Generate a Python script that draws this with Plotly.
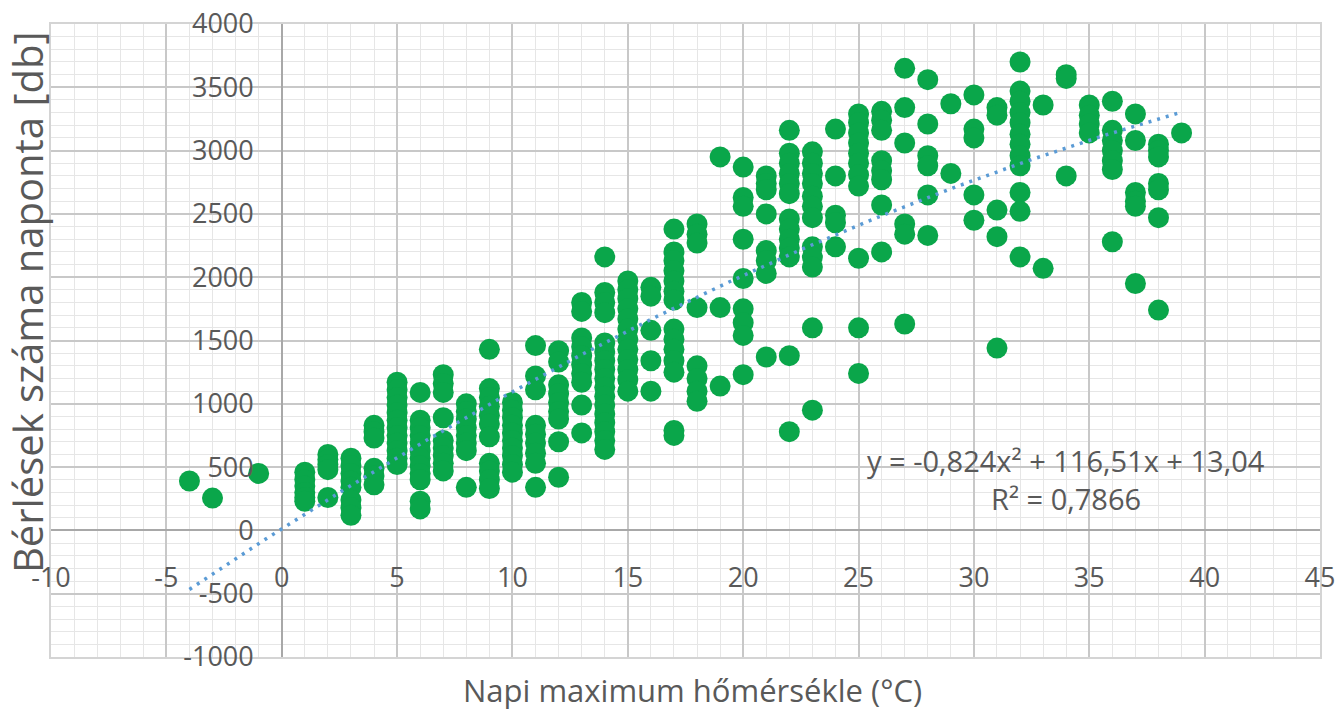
import numpy as np
import plotly.graph_objects as go

# ---- data ----
temps = [-4, -3, -1, 1, 2, 3, 4, 5, 6, 7, 8, 9, 10, 11, 12, 13, 14, 15, 16, 17, 18, 19,
         20, 21, 22, 23, 24, 25, 26, 27, 28, 29, 30, 31, 32, 33, 34, 35, 36, 37, 38, 39]
rentals_per_temp = [
    [390],
    [255],
    [450],
    [460, 400, 350, 300, 260, 230],
    [600, 560, 520, 480, 260],
    [570, 510, 450, 390, 340, 240, 180, 120],
    [830, 780, 730, 490, 430, 360],
    [1170, 1110, 1050, 990, 930, 870, 810, 750, 690, 630, 570, 520],
    [1090, 870, 810, 750, 690, 630, 570, 510, 450, 400, 230, 170],
    [1230, 1160, 1090, 890, 710, 650, 590, 530, 470],
    [1000, 940, 880, 810, 750, 690, 630, 340],
    [1430, 1120, 1050, 980, 910, 840, 740, 530, 470, 400, 330],
    [1010, 950, 890, 830, 770, 710, 650, 590, 520, 460],
    [1460, 1220, 1110, 830, 760, 690, 610, 530, 340],
    [1420, 1330, 1150, 1080, 1010, 940, 880, 700, 420],
    [1800, 1730, 1520, 1450, 1380, 1310, 1240, 1170, 990, 770],
    [2160, 1880, 1800, 1720, 1480, 1410, 1340, 1270, 1200, 1130, 1060, 990, 920, 850, 780, 710, 640],
    [1970, 1900, 1830, 1750, 1670, 1590, 1510, 1430, 1350, 1270, 1190, 1100],
    [1920, 1850, 1580, 1340, 1100],
    [2380, 2200, 2130, 2050, 1970, 1890, 1820, 1590, 1510, 1430, 1340, 1250, 790, 750],
    [2420, 2340, 2270, 1760, 1300, 1200, 1100, 1020],
    [2950, 1760, 1140],
    [2870, 2630, 2560, 2300, 1990, 1750, 1640, 1540, 1230],
    [2800, 2740, 2690, 2500, 2210, 2130, 2030, 1370],
    [3160, 2980, 2900, 2820, 2740, 2660, 2460, 2380, 2300, 2230, 2160, 1380, 780],
    [2990, 2900, 2820, 2740, 2640, 2560, 2470, 2240, 2160, 2080, 1600, 950],
    [3170, 2800, 2490, 2430, 2240],
    [3290, 3220, 3140, 3060, 2980, 2900, 2810, 2720, 2150, 1600, 1240],
    [3310, 3240, 3160, 2920, 2840, 2770, 2570, 2200],
    [3650, 3340, 3060, 2420, 2340, 1630],
    [3560, 3210, 2960, 2880, 2650, 2330],
    [3370, 2820],
    [3440, 3170, 3100, 2650, 2450],
    [3340, 3280, 2530, 2320, 1440],
    [3700, 3470, 3390, 3300, 3220, 3130, 3050, 2960, 2880, 2670, 2520, 2160],
    [3360, 2070],
    [3600, 3570, 2800],
    [3360, 3280, 3210, 3140],
    [3390, 3160, 3080, 3000, 2920, 2850, 2280],
    [3290, 3080, 2670, 2600, 2560, 1950],
    [3050, 3000, 2950, 2740, 2690, 2470, 1740],
    [3140],
]

# trendline coefficients shown on the chart
trend_a, trend_b, trend_c = -0.824, 116.51, 13.04
equation_text = "y = -0,824x² + 116,51x + 13,04"
r2_text = "R² = 0,7866"

x_tick_vals = [-10, -5, 0, 5, 10, 15, 20, 25, 30, 35, 40, 45]
x_tick_text = ["-10", "-5", "0", "5", "10", "15", "20", "25", "30", "35", "40", "45"]
y_tick_vals = [-1000, -500, 0, 500, 1000, 1500, 2000, 2500, 3000, 3500, 4000]
y_tick_text = ["-1000", "-500", "0", "500", "1000", "1500", "2000", "2500", "3000", "3500", "4000"]

x_title = "Napi maximum hőmérsékle (°C)"
y_title = "Bérlések száma naponta [db]"

# ---- build ----
xs = [t for t, vals in zip(temps, rentals_per_temp) for _ in vals]
ys = [v for vals in rentals_per_temp for v in vals]

tx = np.linspace(min(temps), max(temps), 200)
ty = trend_a * tx ** 2 + trend_b * tx + trend_c

X_RANGE = [-10, 45]
Y_RANGE = [-1000, 4000]
TXT = "#595959"
FONT = "Open Sans"

fig = go.Figure()
fig.add_trace(go.Scatter(x=xs, y=ys, mode="markers",
                         marker=dict(color="#0aa64a", size=21, line=dict(width=0)),
                         xaxis="x", yaxis="y", hoverinfo="x+y"))
fig.add_trace(go.Scatter(x=tx, y=ty, mode="lines",
                         line=dict(color="#5b9bd5", width=3.5, dash="3px,6px"),
                         xaxis="x", yaxis="y", hoverinfo="skip"))
# carrier trace for the crossing axes (tick labels)
fig.add_trace(go.Scatter(x=[X_RANGE[0]], y=[Y_RANGE[0]], mode="markers",
                         marker=dict(opacity=0), xaxis="x2", yaxis="y2", hoverinfo="skip"))

grid_common = dict(showgrid=True, gridcolor="#c8c8c8", gridwidth=1.5,
                   zeroline=True, zerolinecolor="#a8a8a8", zerolinewidth=2,
                   showline=True, mirror=True, linecolor="#d4d4d4", linewidth=1.5,
                   ticks="", showticklabels=False, automargin=False)

fig.update_layout(
    width=1337, height=711,
    margin=dict(l=51, r=17, t=24, b=54),
    plot_bgcolor="white", paper_bgcolor="white",
    showlegend=False,
    font=dict(family=FONT, color=TXT),
    xaxis=dict(range=X_RANGE, tickmode="linear", tick0=0, dtick=5,
               minor=dict(dtick=1, tick0=0, showgrid=True, gridcolor="#e6e6e6", gridwidth=1),
               **grid_common),
    yaxis=dict(range=Y_RANGE, tickmode="linear", tick0=0, dtick=500,
               minor=dict(dtick=100, tick0=0, showgrid=True, gridcolor="#e6e6e6", gridwidth=1),
               **grid_common),
    xaxis2=dict(overlaying="x", anchor="free", position=0.2, range=X_RANGE,
                tickmode="array", tickvals=x_tick_vals, ticktext=x_tick_text,
                showgrid=False, zeroline=False, showline=False, ticks="", automargin=False,
                tickfont=dict(size=27, color=TXT, family=FONT), ticklabelstandoff=29),
    yaxis2=dict(overlaying="y", anchor="free", position=10 / 55, range=Y_RANGE, side="left",
                tickmode="array", tickvals=y_tick_vals, ticktext=y_tick_text,
                showgrid=False, zeroline=False, showline=False, ticks="", automargin=False,
                tickfont=dict(size=27, color=TXT, family=FONT), ticklabelstandoff=28),
    annotations=[
        dict(text=y_title, xref="paper", yref="paper", x=-0.018, y=0.561,
             textangle=-90, showarrow=False, font=dict(size=40, color=TXT, family=FONT),
             xanchor="center", yanchor="middle"),
        dict(text=x_title, xref="paper", yref="paper", x=0.5055, y=-0.052,
             showarrow=False, font=dict(size=31, color=TXT, family=FONT),
             xanchor="center", yanchor="middle"),
        dict(text=equation_text, xref="x", yref="y", x=34.0, y=553, showarrow=False,
             font=dict(size=29, color=TXT, family=FONT), xanchor="center", yanchor="middle"),
        dict(text=r2_text, xref="x", yref="y", x=34.0, y=253, showarrow=False,
             font=dict(size=29, color=TXT, family=FONT), xanchor="center", yanchor="middle"),
    ],
)

fig.write_html("out.html")
